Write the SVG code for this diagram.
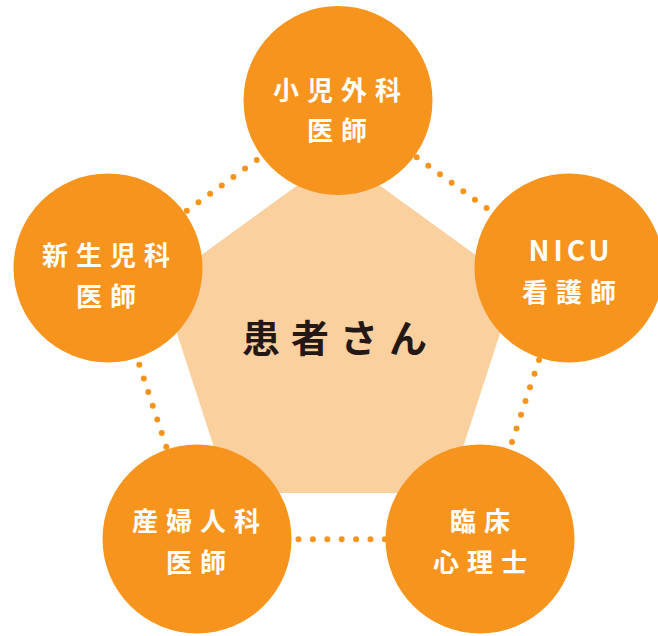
<svg xmlns="http://www.w3.org/2000/svg" width="658" height="636" viewBox="0 0 658 636">
  <style>
    .node circle { fill: #F7941D; }
    .lbl { font-family: "Noto Sans CJK JP", "Noto Sans", sans-serif; font-weight: 700; font-size: 26px; fill: #FFFFFF; text-anchor: middle; dominant-baseline: central; letter-spacing: 8px; }
    .dots line { stroke: #F7941D; stroke-width: 6; stroke-linecap: round; stroke-dasharray: 0 14.4; fill: none; }
    .center { font-family: "Noto Sans CJK JP", "Noto Sans", sans-serif; font-weight: 700; font-size: 38px; fill: #231815; text-anchor: middle; dominant-baseline: central; letter-spacing: 11px; }
  </style>
  <rect width="658" height="636" fill="#FFFFFF"/>
  <g id="patient">
    <polygon points="338.5,155.4 516,284.3 448.2,493 228.8,493 161,284.3" fill="#FBD09F"/>
    <text class="center" x="340" y="335">患者さん</text>
  </g>
  <g id="connectors" class="dots">
    <line x1="416.7" y1="157.3" x2="486.65" y2="208.14"/>
    <line x1="256.7" y1="160" x2="186.75" y2="210.84"/>
    <line x1="139.3" y1="364.7" x2="166.28" y2="446.8"/>
    <line x1="539" y1="360" x2="512.02" y2="442.1"/>
    <line x1="384.9" y1="539.3" x2="298.4" y2="539.3"/>
  </g>
  <g id="node-pediatric-surgeon" class="node">
    <circle cx="338" cy="100.5" r="94.5"/>
    <text class="lbl" x="341" y="88">小児外科</text>
    <text class="lbl" x="341" y="128">医師</text>
  </g>
  <g id="node-nicu-nurse" class="node">
    <circle cx="569" cy="268" r="94.5"/>
    <text class="lbl" x="571" y="249" style="letter-spacing:4px;font-size:28px">NICU</text>
    <text class="lbl" x="573" y="290">看護師</text>
  </g>
  <g id="node-psychologist" class="node">
    <circle cx="480" cy="539" r="94.5"/>
    <text class="lbl" x="484" y="519">臨床</text>
    <text class="lbl" x="484" y="560">心理士</text>
  </g>
  <g id="node-obstetrician" class="node">
    <circle cx="197" cy="539" r="94.5"/>
    <text class="lbl" x="200" y="519">産婦人科</text>
    <text class="lbl" x="200" y="560">医師</text>
  </g>
  <g id="node-neonatologist" class="node">
    <circle cx="108" cy="268" r="94.5"/>
    <text class="lbl" x="110" y="253.5">新生児科</text>
    <text class="lbl" x="110" y="294">医師</text>
  </g>
</svg>
